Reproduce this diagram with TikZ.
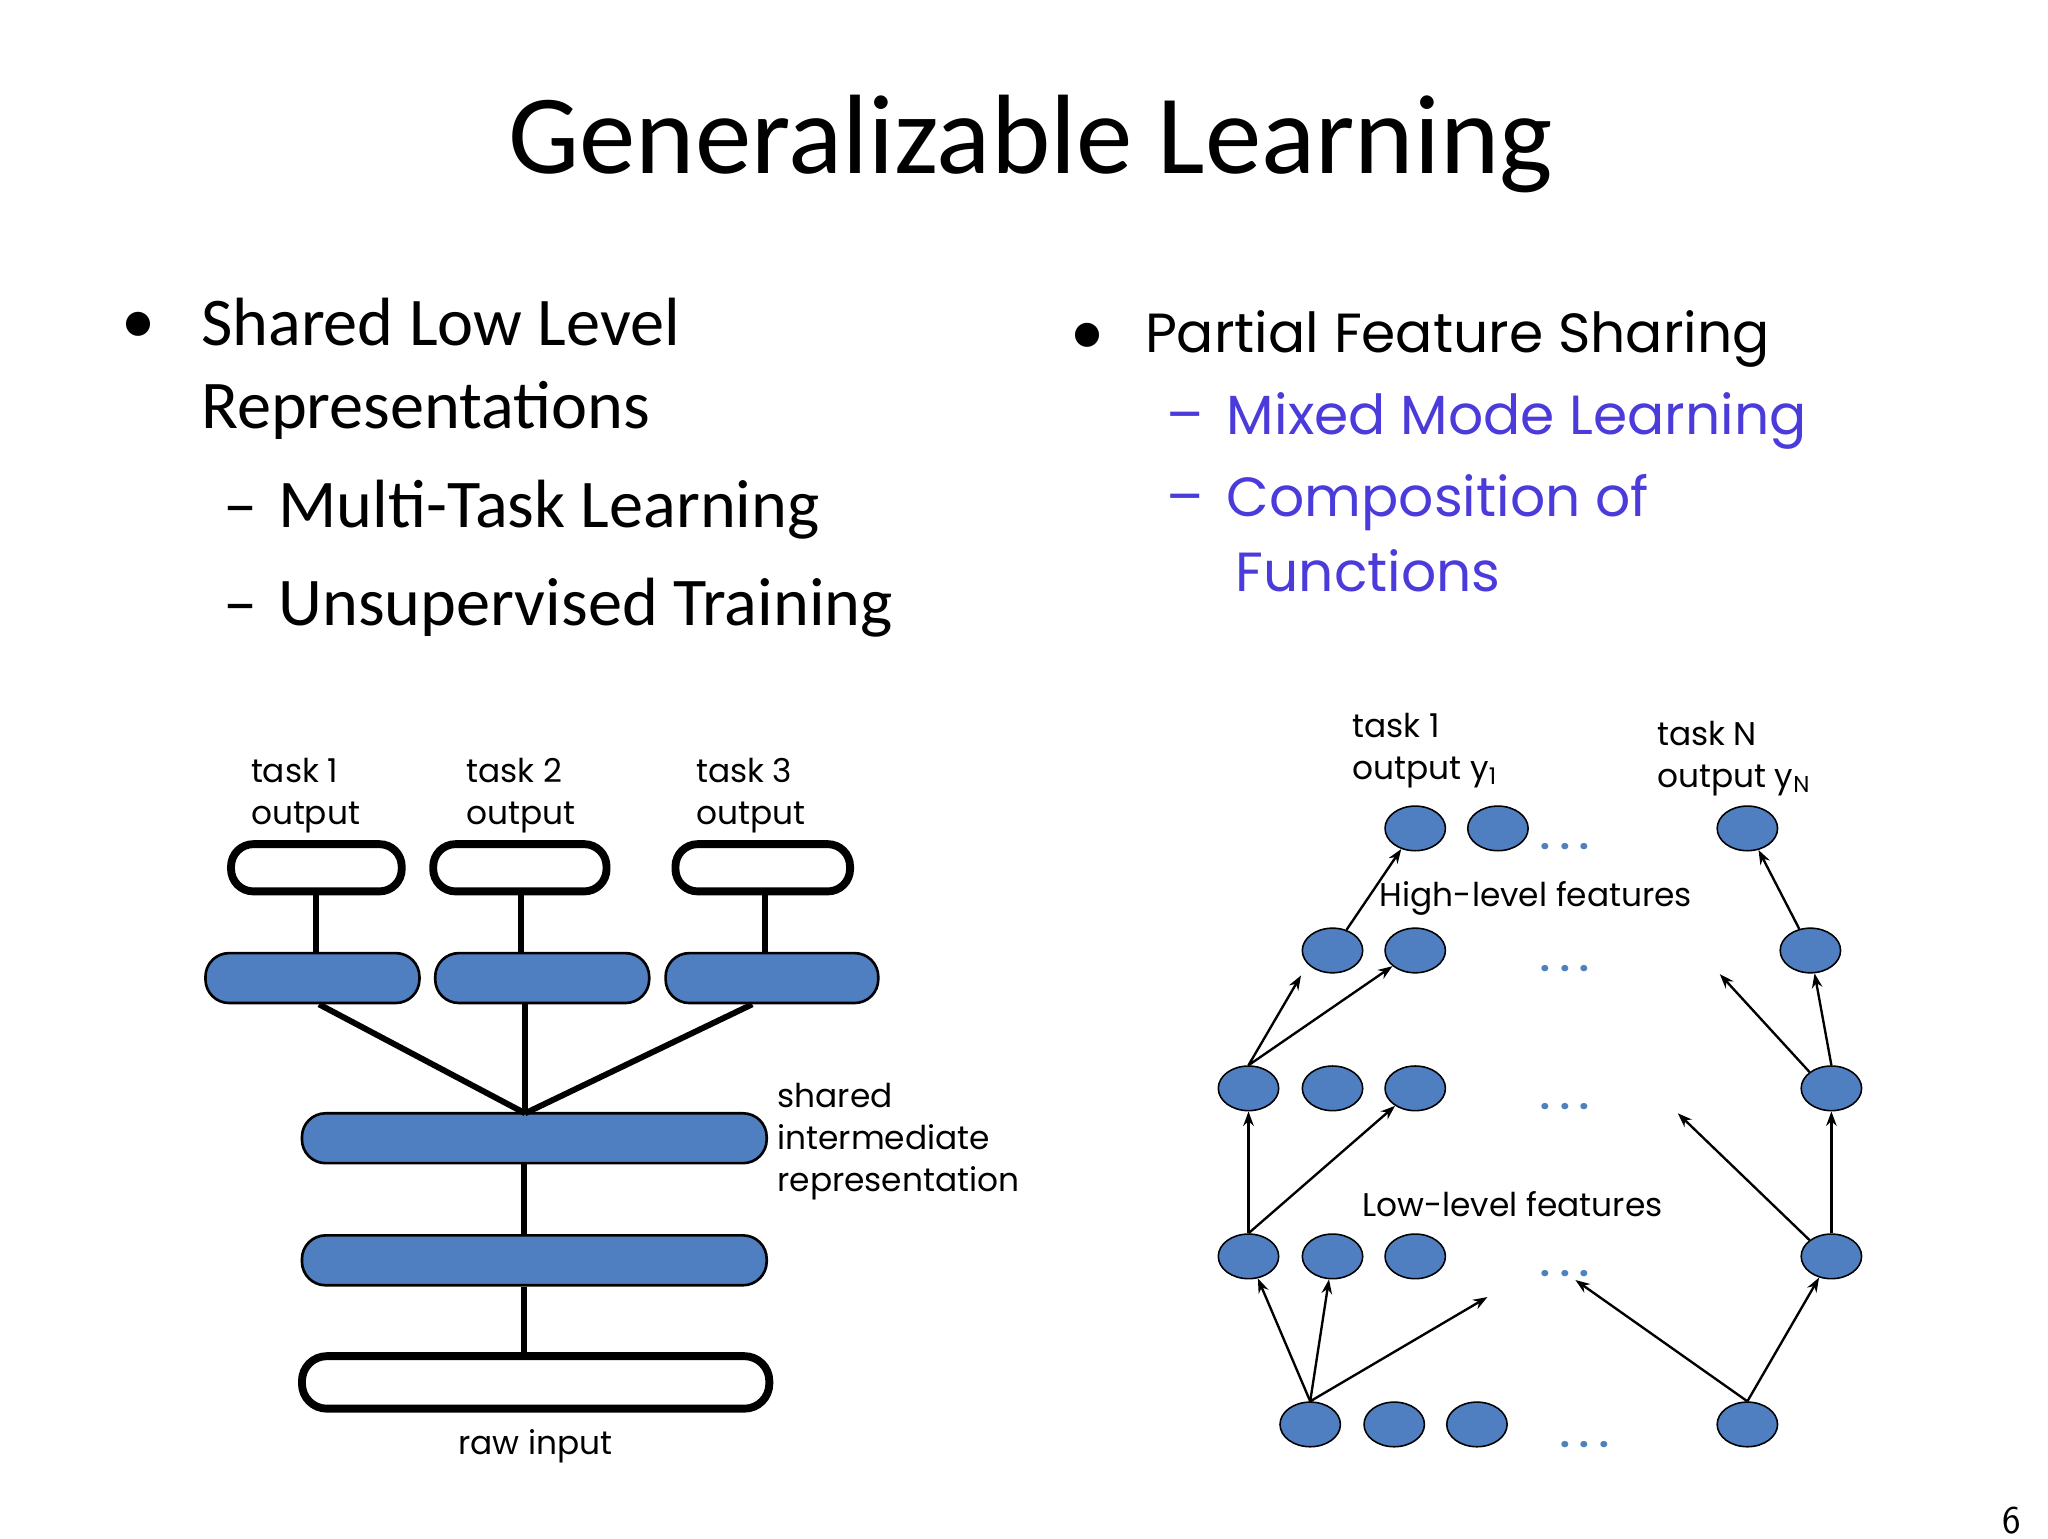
\documentclass[tikz,border=0pt]{standalone}
\usepackage{fontspec}
\setmainfont{Carlito}
\newfontfamily\gothic{Poppins}
\usetikzlibrary{shapes.geometric,arrows.meta}
\definecolor{nodeblue}{HTML}{4F7FC0}
\definecolor{dotblue}{HTML}{4F81BD}
\definecolor{purp}{HTML}{4B3BDB}
\begin{document}
\begin{tikzpicture}[x=1pt,y=-1pt,
  outbox/.style={draw=black,line width=6pt,fill=white,rounded corners=17pt,minimum height=36pt,inner sep=0},
  bluebox/.style={draw=black,line width=2pt,fill=nodeblue,rounded corners=18pt,minimum height=38pt,inner sep=0},
  nd/.style={ellipse,draw=black,line width=1.2pt,fill=nodeblue,minimum width=46pt,minimum height=34pt,inner sep=0},
  thick3/.style={line width=4.5pt},
  arr/.style={line width=1.8pt,-{Stealth[length=11pt,width=8pt]}},
  lbl/.style={font=\gothic\fontsize{25}{32}\selectfont,align=left,anchor=north west,inner sep=0},
  big/.style={font=\fontsize{52}{63}\selectfont,anchor=west,inner sep=0,align=left},
  dots/.style={text=dotblue,font=\gothic\bfseries\fontsize{26}{30}\selectfont,inner sep=0}]
\useasboundingbox (0,0) rectangle (1560,1172);
% title
\node (title) at (785,110) {\fontsize{86}{100}\selectfont Generalizable Learning};
% left bullets
\node[big] (b1) at (92,250) {•};
\node[big] (t1) at (153,281) {Shared Low Level\\Representations};
\node[big] (t2) at (170,388) {–\hspace{16pt}Multi-Task Learning};
\node[big] (t3) at (170,463) {–\hspace{16pt}Unsupervised Training};
% right bullets
\node[big] (b2) at (815,258) {•};
\node[anchor=west,inner sep=0] (r1) at (872,258) {\gothic\fontsize{42}{50}\selectfont Partial Feature Sharing};
\node[anchor=west,inner sep=0,text=purp] (r2) at (888,321) {\gothic\fontsize{42}{50}\selectfont –\hspace{18pt}Mixed Mode Learning};
\node[anchor=west,inner sep=0,text=purp] (r3) at (888,383) {\gothic\fontsize{42}{50}\selectfont –\hspace{18pt}Composition of};
\node[anchor=west,inner sep=0,text=purp] (r4) at (941,435) {\gothic\fontsize{42}{50}\selectfont Functions};
% left diagram
\node[outbox,minimum width=130pt] (o1) at (241,661) {};
\node[outbox,minimum width=132pt] (o2) at (396,661) {};
\node[outbox,minimum width=133pt] (o3) at (581,661) {};
\node[bluebox,minimum width=163pt] (h1) at (238,745) {};
\node[bluebox,minimum width=163pt] (h2) at (413,745) {};
\node[bluebox,minimum width=162pt] (h3) at (588,745) {};
\node[bluebox,minimum width=354pt] (s1) at (407,867) {};
\node[bluebox,minimum width=354pt] (s2) at (407,960) {};
\node[outbox,minimum width=356pt,minimum height=40pt,rounded corners=19pt] (raw) at (408,1053) {};
\coordinate (join) at (400,848);
\draw[thick3] (o1.south -| 241,0) -- (h1.north -| 241,0);
\draw[thick3] (o2.south -| 397,0) -- (h2.north -| 397,0);
\draw[thick3] (o3.south -| 583,0) -- (h3.north -| 583,0);
\draw[thick3] (h1.south -| 243,0) -- (join);
\draw[thick3] (h2.south -| 400,0) -- (join);
\draw[thick3] (h3.south -| 573,0) -- (join);
\draw[thick3] (s1.south -| 399,0) -- (s2.north -| 399,0);
\draw[thick3] (s2.south -| 399,0) -- (raw.north -| 399,0);
\node[lbl] (l1) at (191,577) {task 1\\output};
\node[lbl] (l2) at (355,577) {task 2\\output};
\node[lbl] (l3) at (530,577) {task 3\\output};
\node[lbl] (l4) at (592,825) {shared\\intermediate\\representation};
\node[font=\gothic\fontsize{25}{32}\selectfont] (l5) at (408,1102) {raw input};
% right diagram
\foreach \n/\x/\y in {a1/1078/631,b1/1141/631,d1/1331/631,
  a2/1015/724,b2/1078/724,d2/1379/724,
  a3/951/829,b3/1015/829,c3/1078/829,d3/1395/829,
  a4/951/957,b4/1015/957,c4/1078/957,d4/1395/957,
  a5/998/1085,b5/1062/1085,c5/1125/1085,d5/1331/1085}
  \node[nd] (\n) at (\x,\y) {};
\foreach \n/\x/\y in {e1/1192/645,e2/1192/738,e3/1192/843,e4/1192/970,e5/1207/1100}
  \node[dots] (\n) at (\x,\y) {. . .};
\coordinate (f5) at (1133,988);
\coordinate (g5) at (1200,975);
\coordinate (f4) at (1278,848);
\coordinate (f3) at (1310,742);
\draw[arr] (a2) -- (a1);
\draw[arr] (a3.north) -- (991,743);
\draw[arr] (a3.north) -- (b2);
\draw[arr] (a4.north) -- (a3.south -| a4.north);
\draw[arr] (a4.north) -- (c3);
\draw[arr] (a5.north) -- (a4);
\draw[arr] (a5.north) -- (b4);
\draw[arr] (a5.north) -- (f5);
\draw[arr] (d5.north) -- (d4);
\draw[arr] (d5.north) -- (g5);
\draw[arr] (d4.north) -- (d3);
\draw[arr] (d4.north west) -- (f4);
\draw[arr] (d3.north) -- (d2);
\draw[arr] (d3.north west) -- (f3);
\draw[arr] (d2) -- (d1);
\node[font=\gothic\fontsize{25}{32}\selectfont] (hl) at (1170,684) {High-level features};
\node[font=\gothic\fontsize{25}{32}\selectfont] (ll) at (1152,917) {Low-level features};
\node[lbl] (ty1) at (1030,543) {task 1\\output y\textsubscript{1}};
\node[lbl] (tyn) at (1262,549) {task N\\output y\textsubscript{N}};
\node[font=\sffamily\fontsize{30}{36}\selectfont] (pg) at (1532,1158) {6};
\end{tikzpicture}
\end{document}
